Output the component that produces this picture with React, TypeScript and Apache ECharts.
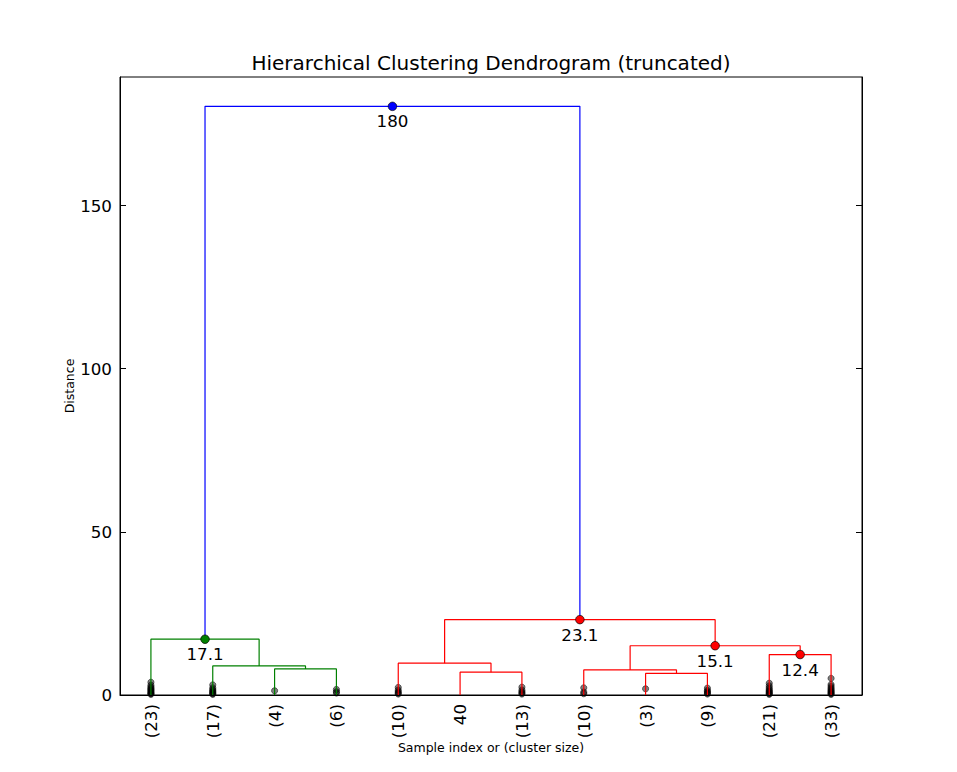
import React, { useEffect, useRef } from "react";
import * as echarts from "echarts";

// ---- data ----
const leafLabels = ["(23)", "(17)", "(4)", "(6)", "(10)", "40", "(13)", "(10)", "(3)", "(9)", "(21)", "(33)"];
const leafPositions = [5, 15, 25, 35, 45, 55, 65, 75, 85, 95, 105, 115];

// dendrogram links (scipy icoord / dcoord style)
const linkXs = [
  [25, 25, 35, 35],
  [15, 15, 30, 30],
  [5, 5, 22.5, 22.5],
  [55, 55, 65, 65],
  [45, 45, 60, 60],
  [85, 85, 95, 95],
  [75, 75, 90, 90],
  [105, 105, 115, 115],
  [82.5, 82.5, 110, 110],
  [52.5, 52.5, 96.25, 96.25],
  [13.75, 13.75, 74.375, 74.375],
];
const linkYs = [
  [0, 8.0, 8.0, 0],
  [0, 8.9, 8.9, 8.0],
  [0, 17.1, 17.1, 8.9],
  [0, 7.0, 7.0, 0],
  [0, 9.75, 9.75, 7.0],
  [0, 6.6, 6.6, 0],
  [0, 7.7, 7.7, 6.6],
  [0, 12.4, 12.4, 0],
  [7.7, 15.1, 15.1, 12.4],
  [9.75, 23.1, 23.1, 15.1],
  [17.1, 180.4, 180.4, 23.1],
];
const linkColors = ["#008000", "#008000", "#008000", "#ff0000", "#ff0000", "#ff0000", "#ff0000", "#ff0000", "#ff0000", "#ff0000", "#0000ff"];

// annotated merge points
const annotX = [13.75, 44.0625, 74.375, 96.25, 110];
const annotY = [17.1, 180.4, 23.1, 15.1, 12.4];
const annotText = ["17.1", "180", "23.1", "15.1", "12.4"];
const annotColors = ["#008000", "#0000ff", "#ff0000", "#ff0000", "#ff0000"];

// contracted-merge marks per leaf (heights)
const contractionHeights = [
  [0.2, 0.4, 0.6, 0.9, 1.2, 1.5, 1.8, 2.1, 2.5, 3.0, 3.9],
  [0.2, 0.4, 0.7, 1.0, 1.3, 1.7, 2.2, 3.1],
  [1.3],
  [0.6, 1.0, 1.7],
  [0.3, 0.6, 1.0, 1.5, 2.3],
  [],
  [0.3, 0.6, 1.0, 1.5, 2.4],
  [0.4, 0.9, 2.2],
  [1.9],
  [0.3, 0.6, 1.0, 1.4, 2.1],
  [0.2, 0.4, 0.7, 1.0, 1.3, 1.7, 2.2, 2.8, 3.6],
  [0.2, 0.4, 0.7, 1.0, 1.3, 1.7, 2.1, 2.6, 3.2, 5.1],
];

const yMax = 189.4;
const yTicks = [0, 50, 100, 150];

const FONT = "DejaVu Sans";

export default function App() {
  const ref = useRef<HTMLDivElement>(null);

  useEffect(() => {
    if (!ref.current) return;
    const chart = echarts.init(ref.current, undefined, { renderer: "svg" });

    const gridLeft = 120;
    const gridTop = 77;
    const gridWidth = 742;
    const gridHeight = 618;

    const linkSeries = linkXs.map((xs, i) => ({
      type: "line",
      z: 3,
      showSymbol: false,
      symbol: "none",
      silent: true,
      data: xs.map((x, j) => [x, linkYs[i][j]]),
      lineStyle: { color: linkColors[i], width: 1.2, opacity: 1 },
      itemStyle: { color: linkColors[i] },
    }));

    const marks: number[][] = [];
    contractionHeights.forEach((hs, i) => {
      hs.forEach((h) => marks.push([leafPositions[i], h]));
    });

    const option = {
      animation: false,
      backgroundColor: "#ffffff",
      textStyle: { fontFamily: FONT },
      grid: {
        left: gridLeft,
        top: gridTop,
        width: gridWidth,
        height: gridHeight,
        show: true,
        borderColor: "#000",
        borderWidth: 1,
        backgroundColor: "transparent",
      },
      xAxis: {
        type: "value",
        min: 0,
        max: 120,
        axisLine: { show: true, lineStyle: { color: "#000", width: 1 } },
        axisTick: { show: false },
        splitLine: { show: false },
        axisLabel: {
          customValues: leafPositions,
          formatter: (v: number) => {
            const idx = leafPositions.indexOf(v);
            return idx >= 0 ? leafLabels[idx] : "";
          },
          rotate: 90,
          margin: 9,
          fontSize: 16.7,
          fontFamily: FONT,
          color: "#000",
        },
      },
      yAxis: [
        {
          type: "value",
          min: 0,
          max: yMax,
          position: "left",
          axisLine: { show: true, lineStyle: { color: "#000" } },
          axisTick: { show: true, inside: true, length: 6, customValues: yTicks, lineStyle: { color: "#000" } },
          splitLine: { show: false },
          axisLabel: {
            customValues: yTicks,
            margin: 8,
            fontSize: 16.7,
            fontFamily: FONT,
            color: "#000",
          },
        },
        {
          type: "value",
          min: 0,
          max: yMax,
          position: "right",
          axisLine: { show: true, lineStyle: { color: "#000" } },
          axisTick: { show: true, inside: true, length: 6, customValues: yTicks, lineStyle: { color: "#000" } },
          splitLine: { show: false },
          axisLabel: { show: false },
        },
      ],
      series: [
        {
          type: "scatter",
          z: 2,
          silent: true,
          symbol: "circle",
          symbolSize: 6.2,
          data: marks,
          itemStyle: {
            color: "rgba(0,0,0,0.5)",
            borderColor: "rgba(0,0,0,0.5)",
            borderWidth: 1,
            opacity: 1,
          },
        },
        ...linkSeries,
        {
          type: "scatter",
          z: 4,
          silent: true,
          symbol: "circle",
          symbolSize: 8.5,
          data: annotX.map((x, i) => ({
            value: [x, annotY[i]],
            itemStyle: { color: annotColors[i], borderColor: "#000", borderWidth: 0.7, opacity: 1 },
            label: {
              show: true,
              position: "bottom",
              distance: 2,
              formatter: annotText[i],
              fontSize: 16.7,
              fontFamily: FONT,
              color: "#000",
              opacity: 1,
            },
          })),
        },
      ],
      graphic: [
        {
          type: "text",
          x: gridLeft + gridWidth / 2,
          y: 63,
          style: {
            text: "Hierarchical Clustering Dendrogram (truncated)",
            fontSize: 20,
            fontFamily: FONT,
            fill: "#000",
            align: "center",
            verticalAlign: "middle",
          },
        },
        {
          type: "text",
          x: gridLeft + gridWidth / 2,
          y: 747,
          style: {
            text: "Sample index or (cluster size)",
            fontSize: 12.5,
            fontFamily: FONT,
            fill: "#000",
            align: "center",
            verticalAlign: "middle",
          },
        },
        {
          type: "text",
          x: 69,
          y: gridTop + gridHeight / 2,
          rotation: Math.PI / 2,
          style: {
            text: "Distance",
            fontSize: 12.5,
            fontFamily: FONT,
            fill: "#000",
            align: "center",
            verticalAlign: "middle",
          },
        },
      ],
    };

    chart.setOption(option as any);
    return () => chart.dispose();
  }, []);

  return (
    <div
      ref={ref}
      style={{ position: "absolute", left: 0, top: 0, width: 957, height: 772, background: "#fff" }}
    />
  );
}
